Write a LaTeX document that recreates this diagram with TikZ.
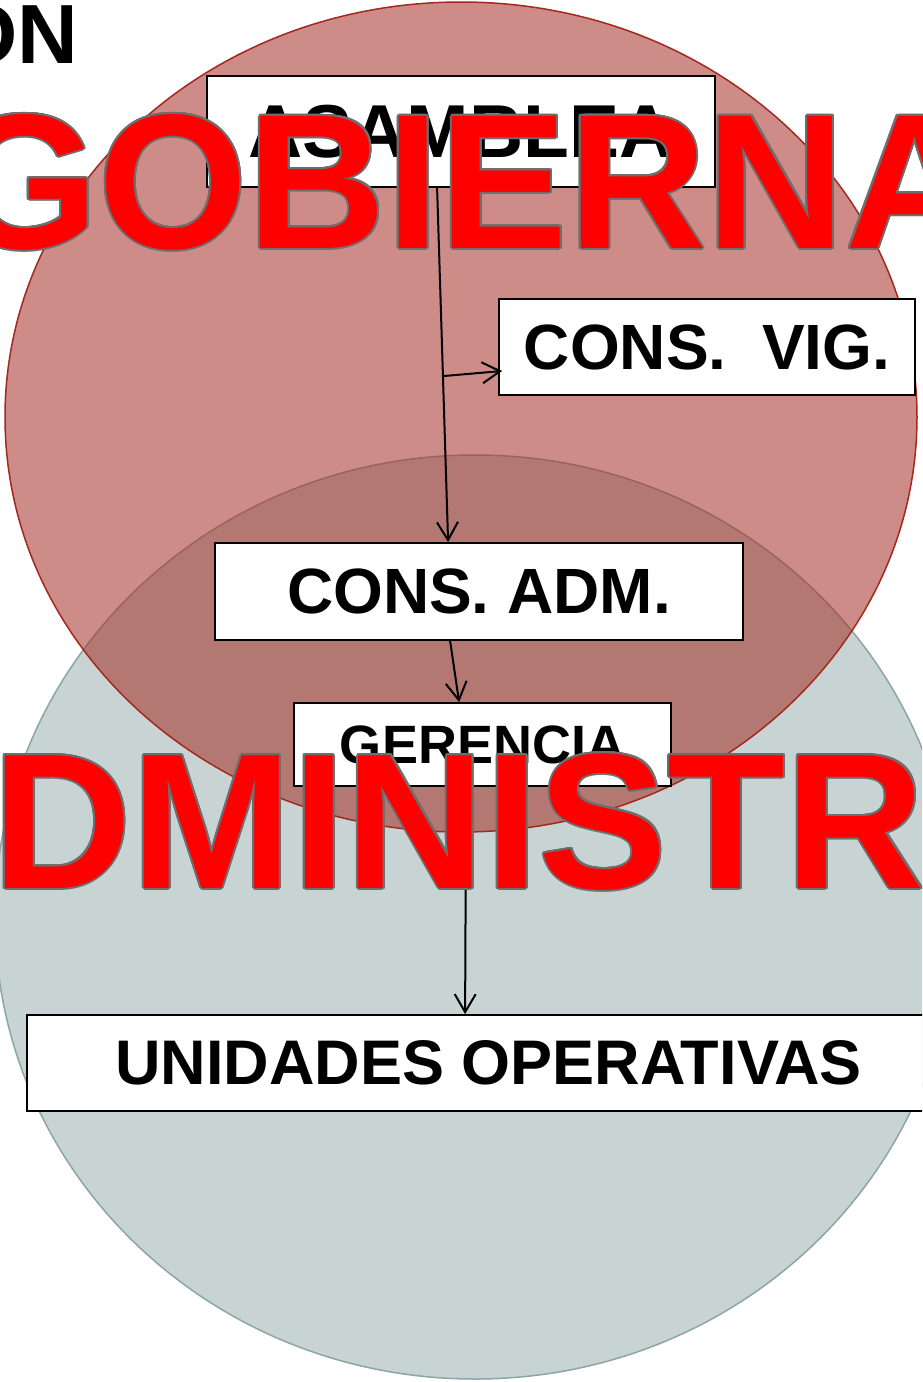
\documentclass[tikz,border=0pt]{standalone}
\usepackage{fontspec}
\setmainfont{Liberation Sans}
\usetikzlibrary{arrows.meta,calc}
\definecolor{redfill}{RGB}{164,46,37}
\definecolor{redline}{RGB}{165,40,30}
\definecolor{grayfill}{RGB}{200,212,212}
\definecolor{grayline}{RGB}{140,165,165}
\definecolor{outlinegray}{RGB}{110,110,110}
\definecolor{bigred}{RGB}{255,0,0}
\frenchspacing
\begin{document}
\begin{tikzpicture}[x=1pt,y=-1pt,
  box/.style={draw=black, line width=1.8pt, fill=white, inner sep=0pt},
  arr/.style={line width=2pt, -{Straight Barb[length=18pt,width=21pt,line width=2pt]}},
  bigword/.style={anchor=base west, inner sep=0pt, font=\fontsize{192}{192}\selectfont\bfseries},
  bigwordB/.style={anchor=base west, inner sep=0pt, font=\fontsize{193}{193}\selectfont\bfseries}]
\useasboundingbox (0,0) rectangle (922,1382);
\clip (0,0) rectangle (922,1382);
% circles
\fill[white] (0,0) rectangle (922,1382);
\draw[fill=grayfill, draw=grayline, line width=1.5pt] (475,917) ellipse [x radius=480pt, y radius=462pt];
\draw[fill=redfill, fill opacity=0.55, draw=redline, line width=1.5pt] (461,417) ellipse [x radius=456pt, y radius=415pt];
% boxes
\node[box, minimum width=508pt, minimum height=111pt, font=\fontsize{75}{75}\selectfont\bfseries] (asamblea) at (461,131.5) {ASAMBLEA};
\node[box, minimum width=416pt, minimum height=96pt, font=\fontsize{64}{64}\selectfont\bfseries] (consvig) at (707,347) {CONS.\ \ VIG.};
\node[box, minimum width=528pt, minimum height=97pt, font=\fontsize{64}{64}\selectfont\bfseries] (consadm) at (479,591.5) {CONS. ADM.};
\node[box, minimum width=377pt, minimum height=83pt, font=\fontsize{54}{54}\selectfont\bfseries] (gerencia) at (482.5,744.5) {GERENCIA};
\node[box, minimum width=923pt, minimum height=96pt, font=\fontsize{63}{63}\selectfont\bfseries] (unidades) at (488.5,1063) {UNIDADES OPERATIVAS};
% connectors
\coordinate (j) at (444,376);
\draw[arr] ($(asamblea.south west)+(231,0)$) -- ($(consadm.north west)+(234,0)$);
\draw[arr] (j) -- ($(consvig.west)+(4,24)$);
\draw[arr] ($(consadm.south west)+(236,0)$) -- ($(gerencia.north west)+(166,0)$);
\draw[arr] ($(gerencia.south west)+(173,0)$) -- ($(unidades.north west)+(439,0)$);
% big red words
\foreach \a in {0,22.5,...,337.5} {
  \node[bigword, text=outlinegray, xshift={2pt*cos(\a)}, yshift={2pt*sin(\a)}] (gobsh\a) at (-51,248) {GOBIERNA};
  \node[bigwordB, text=outlinegray, xshift={2pt*cos(\a)}, yshift={2pt*sin(\a)}] (admsh\a) at (-8,888) {DMINISTR};
}
\node[bigword, text=bigred] (gob) at (-51,248) {GOBIERNA};
\node[bigwordB, text=bigred] (adm) at (-8,888) {DMINISTR};
\node[anchor=base west, inner sep=0pt, font=\fontsize{84}{84}\selectfont\bfseries] (on) at (-48,63) {ON};
\end{tikzpicture}
\end{document}
